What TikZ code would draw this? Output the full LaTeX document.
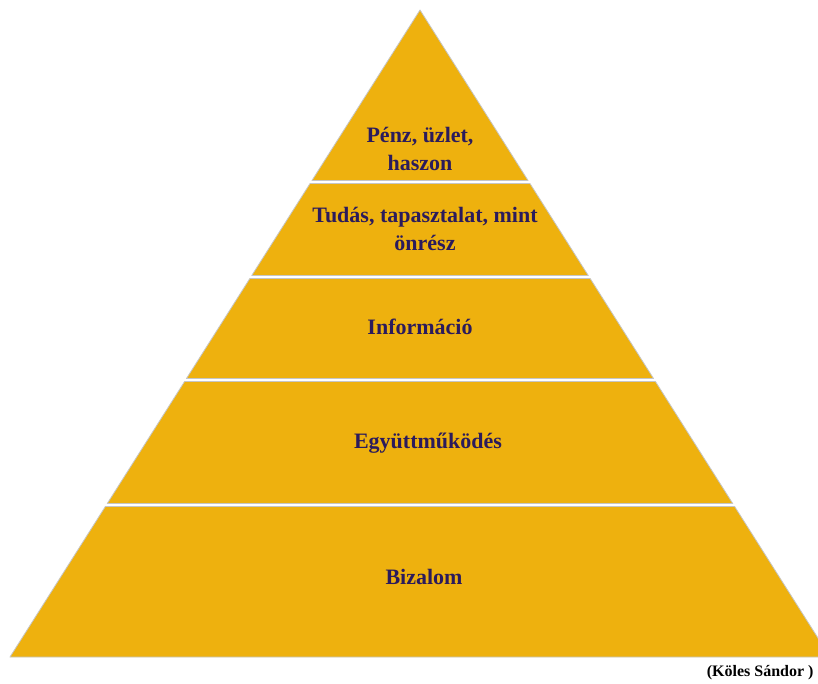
\documentclass[tikz,border=0pt]{standalone}
\usepackage{fontspec}
\setmainfont{Liberation Serif}
\definecolor{pyrgold}{HTML}{EEB10E}
\definecolor{pyrink}{HTML}{2B1B5C}
\tikzset{
    layer/.style={fill=pyrgold,draw=gray!45,line width=0.8pt,line join=round},
    label/.style={text=pyrink,align=center,font=\bfseries\fontsize{22}{28}\selectfont},
}
% one slice of the pyramid, from y=#1 down to y=#2 (in px)
\newcommand\PyrLayer[2]{%
    \filldraw[layer] ({420-0.6337*(#1-10)},#1) -- ({420+0.6337*(#1-10)},#1)
        -- ({420+0.6337*(#2-10)},#2) -- ({420-0.6337*(#2-10)},#2) -- cycle;
}

\begin{document}
\begin{tikzpicture}[x=1pt,y=-1pt]
    \clip (0,0) rectangle (818,684);
    \fill[white] (0,0) rectangle (818,684);
    % layers, top to bottom
    \PyrLayer{10}{180.5}
    \PyrLayer{183.5}{275.5}
    \PyrLayer{278.5}{378.5}
    \PyrLayer{381.5}{503.5}
    \PyrLayer{506.5}{657}
    % texts
    \node[label] (penz) at (420,149) {Pénz, üzlet,\\haszon};
    \node[label] (tudas) at (425,229) {Tudás, tapasztalat, mint\\önrész};
    \node[label] (info) at (420,327) {Információ};
    \node[label] (egyutt) at (428,443) {Együttműködés};
    \node[label] (bizalom) at (424,577) {Bizalom};
    \node[label,font=\bfseries\fontsize{16}{19}\selectfont,text=black,anchor=east] (forras) at (817,673) {(Köles Sándor )};
\end{tikzpicture}
\end{document}
